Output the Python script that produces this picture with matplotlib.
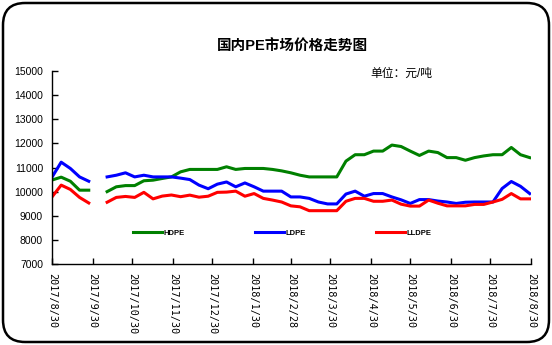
import matplotlib
matplotlib.use('Agg')
import matplotlib.pyplot as plt
import matplotlib.dates as mdates
from matplotlib.patches import FancyBboxPatch
import numpy as np
import pandas as pd

plt.rcParams['font.family'] = ['Liberation Sans', 'Noto Sans CJK SC']
plt.rcParams['axes.unicode_minus'] = False

# 数据：周度价格（元/吨），国庆期间缺一周
dates = pd.date_range('2017-08-30', periods=53, freq='7D')
hdpe = [10480, 10600, 10430, 10060, 10060, np.nan,
        10000, 10200, 10250, 10250, 10450, 10475, 10545, 10610, 10820, 10920,
        10920, 10920, 10920, 11030, 10920, 10960, 10960, 10960, 10920, 10860,
        10780, 10680, 10610, 10610, 10610, 10610, 11265, 11530, 11530, 11680,
        11680, 11930, 11870, 11680, 11500, 11680, 11620, 11410, 11410, 11300,
        11410, 11480, 11530, 11530, 11830, 11530, 11410]
ldpe = [10600, 11220, 10960, 10610, 10430, np.nan,
        10610, 10680, 10780, 10610, 10680, 10610, 10610, 10610, 10560, 10500,
        10270, 10120, 10310, 10400, 10200, 10360, 10200, 10020, 10020, 10020,
        9780, 9780, 9720, 9570, 9490, 9490, 9900, 10020, 9810, 9920,
        9920, 9780, 9660, 9510, 9670, 9670, 9610, 9570, 9510, 9560,
        9570, 9570, 9570, 10130, 10420, 10220, 9920]
lldpe = [9780, 10270, 10090, 9760, 9530, np.nan,
         9560, 9760, 9800, 9760, 9970, 9700, 9815, 9860, 9790, 9855,
         9770, 9810, 9970, 9980, 10020, 9810, 9920, 9720, 9650, 9570,
         9410, 9370, 9210, 9210, 9210, 9210, 9600, 9720, 9720, 9600,
         9600, 9650, 9480, 9400, 9400, 9650, 9520, 9410, 9410, 9410,
         9470, 9470, 9570, 9680, 9920, 9700, 9700]

tick_dates = pd.to_datetime(['2017-08-30', '2017-09-30', '2017-10-30', '2017-11-30',
                             '2017-12-30', '2018-01-30', '2018-02-28', '2018-03-30',
                             '2018-04-30', '2018-05-30', '2018-06-30', '2018-07-30',
                             '2018-08-30'])
tick_labels = ['2017/8/30', '2017/9/30', '2017/10/30', '2017/11/30', '2017/12/30',
               '2018/1/30', '2018/2/28', '2018/3/30', '2018/4/30', '2018/5/30',
               '2018/6/30', '2018/7/30', '2018/8/30']

fig = plt.figure(figsize=(5.52, 3.45), dpi=100)
ax = fig.add_axes([52/552, 1 - 264/345, (531 - 52)/552, (264 - 71)/345])

ax.plot(dates, hdpe, color='#008000', lw=2.2, label='HDPE')
ax.plot(dates, ldpe, color='#0000FF', lw=2.2, label='LDPE')
ax.plot(dates, lldpe, color='#FF0000', lw=2.2, label='LLDPE')

ax.set_ylim(7000, 15000)
ax.set_yticks(range(7000, 15001, 1000))
ax.set_xlim(tick_dates[0], tick_dates[-1])
ax.set_xticks(tick_dates)
ax.set_xticklabels(tick_labels, rotation=270, ha='center', va='top',
                   family='DejaVu Sans Mono', fontsize=7.3)
for lab in ax.get_yticklabels():
    lab.set_fontsize(7.5)

ax.tick_params(axis='both', direction='in', length=4.5, width=1, color='black')
ax.tick_params(axis='y', pad=6.5)
ax.tick_params(axis='x', pad=6.5)
for s in ['top', 'right']:
    ax.spines[s].set_visible(False)
for s in ['left', 'bottom']:
    ax.spines[s].set_linewidth(1.0)

leg = ax.legend(loc='center left', bbox_to_anchor=(133/552, 1 - 233/345),
                bbox_transform=fig.transFigure, ncol=3, frameon=False,
                fontsize=5.5, handlelength=3.8, handletextpad=0.2,
                columnspacing=9.2, borderpad=0, borderaxespad=0)
for t in leg.get_texts():
    t.set_fontweight('bold')

fig.text(292/552, 1 - 47/345, '国内PE市场价格走势图', ha='center', va='center',
         fontsize=10.5, fontweight='bold')
fig.text(370/552, 1 - 74/345, '单位：元/吨', ha='left', va='center', fontsize=8.5)

# 圆角外框
frame = FancyBboxPatch((3/552, 3/345), 546/552, 339/345,
                       boxstyle='round,pad=0,rounding_size=0.04',
                       transform=fig.transFigure, fill=False,
                       edgecolor='black', lw=1.8, mutation_aspect=552/345)
fig.patches.append(frame)

fig.savefig('out.png', dpi=100)
